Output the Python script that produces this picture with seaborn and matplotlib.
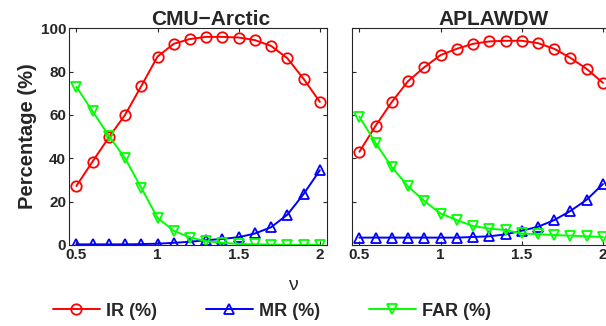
import numpy as np
import pandas as pd
import seaborn as sns
import matplotlib.pyplot as plt

sns.set_style("ticks")
plt.rcParams['font.family'] = ['Liberation Sans', 'DejaVu Sans']
plt.rcParams['xtick.direction'] = 'in'
plt.rcParams['ytick.direction'] = 'in'

# threshold values
nu = [0.5, 0.6, 0.7, 0.8, 0.9, 1.0, 1.1, 1.2, 1.3, 1.4, 1.5, 1.6, 1.7, 1.8, 1.9, 2.0]

# CMU-Arctic
cmu_ir = [27.2, 38.5, 49.6, 60.0, 73.3, 86.9, 92.8, 95.0, 96.0, 96.0, 95.7, 94.5, 91.8, 86.1, 76.6, 66.0]
cmu_mr = [0.3, 0.3, 0.3, 0.3, 0.4, 0.6, 1.0, 1.5, 2.2, 2.8, 3.6, 5.3, 8.2, 14.0, 23.5, 34.5]
cmu_far = [73.0, 61.7, 50.4, 40.0, 26.4, 12.5, 6.6, 3.4, 1.8, 1.0, 0.5, 0.3, 0.2, 0.1, 0.1, 0.1]

# APLAWDW
apl_ir = [43.0, 55.0, 66.0, 75.6, 82.0, 87.6, 90.5, 92.8, 93.9, 94.2, 94.2, 93.1, 90.5, 86.3, 81.2, 74.8]
apl_mr = [3.4, 3.4, 3.4, 3.4, 3.4, 3.4, 3.4, 3.7, 4.0, 4.9, 6.6, 8.4, 11.5, 15.7, 20.9, 28.1]
apl_far = [59.2, 47.0, 35.9, 27.0, 20.3, 14.5, 11.5, 8.7, 7.6, 6.9, 5.3, 5.0, 4.6, 4.3, 4.0, 3.7]

series = [('IR (%)', 'o', (1, 0, 0)), ('MR (%)', '^', (0, 0, 1)), ('FAR (%)', 'v', (0, 1, 0))]
panels = [('CMU\u2212Arctic', [cmu_ir, cmu_mr, cmu_far]), ('APLAWDW', [apl_ir, apl_mr, apl_far])]

fig = plt.figure(figsize=(6.06, 3.26), dpi=100)
ax1 = fig.add_axes([0.1139, 0.2485, 0.426, 0.665])
ax2 = fig.add_axes([0.581, 0.2485, 0.426, 0.665])

for ax, (title, vals) in zip([ax1, ax2], panels):
    for (name, mk, col), v in zip(series, vals):
        df = pd.DataFrame({'nu': nu, 'val': v})
        sns.lineplot(data=df, x='nu', y='val', ax=ax, color=col, marker=mk,
                     markersize=7.5, markerfacecolor='none', markeredgecolor=col,
                     markeredgewidth=1.3, linewidth=1.4, label=name, legend=False)
    ax.set_xlim(0.455, 2.045)
    ax.set_ylim(0, 100)
    ax.set_xticks([0.5, 1, 1.5, 2])
    ax.set_xticklabels(['0.5', '1', '1.5', '2'])
    ax.set_yticks([0, 20, 40, 60, 80, 100])
    ax.tick_params(top=True, right=True, length=3, width=0.8, labelsize=11, pad=2)
    for lab in ax.get_xticklabels() + ax.get_yticklabels():
        lab.set_fontweight('bold')
    for s in ax.spines.values():
        s.set_linewidth(0.8)
    ax.set_title(title, fontsize=15, fontweight='bold', pad=2, x=0.55)
    ax.set_xlabel('')
    ax.set_ylabel('')

ax2.set_yticklabels([])
ax1.set_ylabel('Percentage (%)', fontsize=14.5, fontweight='bold', labelpad=3)

fig.text(292.5 / 606, 1 - 285 / 326, 'ν', fontsize=14, ha='center', va='center')

handles, labels = ax1.get_legend_handles_labels()
leg = fig.legend(handles, labels, loc='center', bbox_to_anchor=(272 / 606, 1 - 311 / 326),
                 ncol=3, frameon=False, fontsize=13, handlelength=2.6,
                 columnspacing=2.7, handletextpad=0.35)
for t in leg.get_texts():
    t.set_fontweight('bold')

fig.savefig('out.png', dpi=100)
